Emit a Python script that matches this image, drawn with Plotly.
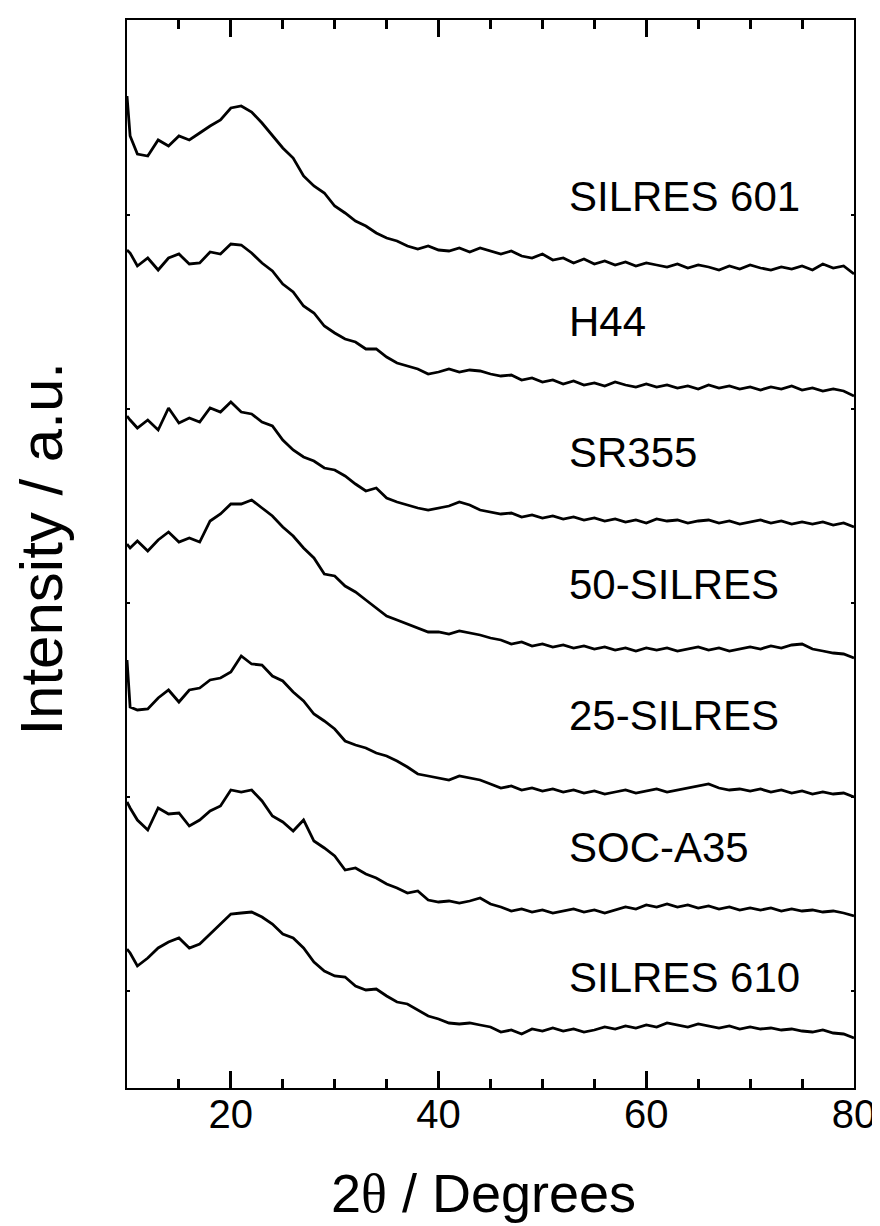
import plotly.graph_objects as go

# 2-theta positions (degrees)
TWO_THETA = [10, 10.3] + list(range(11, 81))

# Stacked XRD intensities (a.u., offsets included)
SILRES_601 = [992, 952, 934, 932, 948, 942, 952, 948, 955, 962, 968, 980, 982, 976, 965, 952, 940, 930, 912, 902,
              895, 882, 875, 867, 862, 855, 850, 847, 842, 839, 842, 838, 837, 840, 836, 840, 837, 834, 837, 832,
              830, 834, 828, 830, 825, 829, 824, 827, 823, 826, 822, 825, 823, 821, 824, 820, 823, 821, 818, 822,
              819, 823, 820, 818, 821, 819, 822, 818, 824, 820, 822, 814]
H44 = [838, 835, 822, 830, 818, 830, 834, 824, 825, 836, 834, 844, 843, 835, 825, 817, 804, 796, 782, 775,
       762, 755, 749, 746, 739, 739, 731, 725, 722, 719, 714, 716, 719, 716, 718, 717, 714, 712, 713, 708,
       710, 706, 708, 704, 707, 703, 705, 702, 706, 703, 701, 704, 701, 703, 700, 702, 699, 703, 700, 702,
       699, 701, 698, 701, 699, 702, 698, 700, 697, 699, 697, 692]
SR355 = [672, 668, 660, 668, 658, 680, 665, 670, 666, 680, 676, 686, 676, 674, 666, 662, 648, 638, 631, 627,
         620, 618, 612, 604, 597, 600, 590, 586, 583, 580, 578, 580, 582, 586, 583, 578, 576, 574, 575, 571,
         573, 570, 572, 569, 571, 568, 570, 567, 569, 566, 568, 565, 569, 567, 568, 565, 567, 568, 565, 567,
         564, 566, 568, 565, 567, 564, 566, 564, 566, 563, 565, 561]
SILRES_50 = [544, 540, 547, 537, 548, 556, 546, 550, 546, 567, 574, 584, 584, 588, 580, 572, 561, 552, 540, 530,
             514, 512, 502, 496, 488, 480, 472, 468, 464, 460, 456, 456, 454, 457, 455, 453, 450, 448, 444, 446,
             442, 444, 441, 443, 440, 442, 439, 441, 438, 440, 437, 440, 438, 440, 437, 439, 441, 438, 440, 437,
             439, 441, 439, 442, 440, 443, 444, 439, 437, 435, 434, 430]
SILRES_25 = [428, 381, 378, 379, 390, 398, 386, 398, 400, 408, 410, 416, 432, 424, 423, 412, 407, 396, 387, 374,
             367, 359, 347, 343, 340, 335, 332, 327, 321, 314, 312, 310, 308, 312, 310, 308, 304, 300, 302, 298,
             300, 297, 299, 296, 298, 295, 297, 294, 296, 298, 295, 297, 299, 296, 298, 300, 302, 304, 300, 298,
             299, 297, 299, 296, 298, 295, 297, 294, 296, 294, 295, 291]
SOC_A35 = [286, 280, 268, 258, 280, 274, 275, 262, 268, 277, 282, 298, 296, 298, 287, 272, 266, 257, 268, 247,
           240, 232, 218, 220, 214, 210, 204, 200, 195, 197, 188, 186, 187, 185, 187, 190, 184, 181, 177, 179,
           176, 178, 175, 177, 179, 176, 178, 175, 178, 181, 179, 183, 181, 184, 181, 183, 180, 182, 179, 181,
           178, 180, 178, 180, 177, 179, 177, 178, 176, 177, 175, 172]
SILRES_610 = [139, 135, 122, 130, 140, 146, 150, 140, 144, 154, 165, 174, 175, 176, 171, 164, 154, 150, 140, 126,
              117, 112, 111, 102, 98, 99, 92, 86, 84, 78, 72, 69, 65, 64, 65, 63, 61, 56, 58, 54,
              59, 57, 60, 57, 59, 56, 58, 61, 59, 62, 60, 63, 61, 65, 63, 61, 64, 62, 60, 62,
              59, 61, 59, 60, 58, 59, 57, 56, 58, 55, 54, 50]

SAMPLES = ["SILRES 601", "H44", "SR355", "50-SILRES", "25-SILRES", "SOC-A35", "SILRES 610"]
SERIES = [SILRES_601, H44, SR355, SILRES_50, SILRES_25, SOC_A35, SILRES_610]
LABEL_X = 52.4
LABEL_Y = [892, 767, 636, 504, 373, 241, 111]

X_MAJOR_STEP = 20
X_MINOR_STEP = 5
Y_TICKS = [97, 291, 485, 679, 873]

FONT = "Liberation Sans, Arial, sans-serif"

fig = go.Figure()
for i, (name, vals) in enumerate(zip(SAMPLES, SERIES)):
    fig.add_trace(go.Scatter(x=TWO_THETA, y=vals, mode="lines", name=name,
                             xaxis="x2" if i == 0 else "x",
                             line=dict(color="black", width=2.8)))

for name, ly in zip(SAMPLES, LABEL_Y):
    fig.add_annotation(x=LABEL_X, y=ly, xref="x", yref="y", text=name, showarrow=False,
                       xanchor="left", yanchor="middle", font=dict(size=42, color="black", family=FONT))

fig.add_annotation(x=0.4905, y=-0.099, xref="paper", yref="paper",
                   text="2<span style='font-family:Liberation Serif, Times New Roman, serif'>θ</span> / Degrees",
                   showarrow=False, xanchor="center", yanchor="middle",
                   font=dict(size=54, color="black", family=FONT))
fig.add_annotation(x=-0.117, y=0.505, xref="paper", yref="paper", text="Intensity / a.u.", showarrow=False,
                   textangle=-90, xanchor="center", yanchor="middle",
                   font=dict(size=60, color="black", family=FONT))

fig.update_layout(
    width=880, height=1226,
    margin=dict(l=119, r=25, t=12, b=146),
    paper_bgcolor="white", plot_bgcolor="white",
    showlegend=False,
    font=dict(family=FONT, color="black"),
)
tick_style = dict(tickmode="linear", tick0=0, dtick=X_MAJOR_STEP,
                  ticks="inside", ticklen=17, tickwidth=2.6, tickcolor="#000000",
                  minor=dict(ticks="inside", ticklen=9, tickwidth=2.6, tickcolor="#000000",
                             tick0=0, dtick=X_MINOR_STEP))
fig.update_layout(
    xaxis=dict(range=[10, 80], **tick_style,
               showline=True, linewidth=2, linecolor="black", showgrid=False, zeroline=False,
               ticklabelstandoff=-10, tickfont=dict(size=40, color="black", family=FONT)),
    xaxis2=dict(range=[10, 80], overlaying="x", side="top", matches="x", **tick_style,
                showline=True, linewidth=2, linecolor="black", showgrid=False, zeroline=False,
                showticklabels=False),
    yaxis=dict(range=[0, 1068], tickmode="array", tickvals=Y_TICKS, showticklabels=False,
               ticks="inside", ticklen=3, tickwidth=1.5, tickcolor="black",
               showline=True, linewidth=2, linecolor="black", mirror="ticks",
               showgrid=False, zeroline=False),
)

fig.write_html("out.html")
